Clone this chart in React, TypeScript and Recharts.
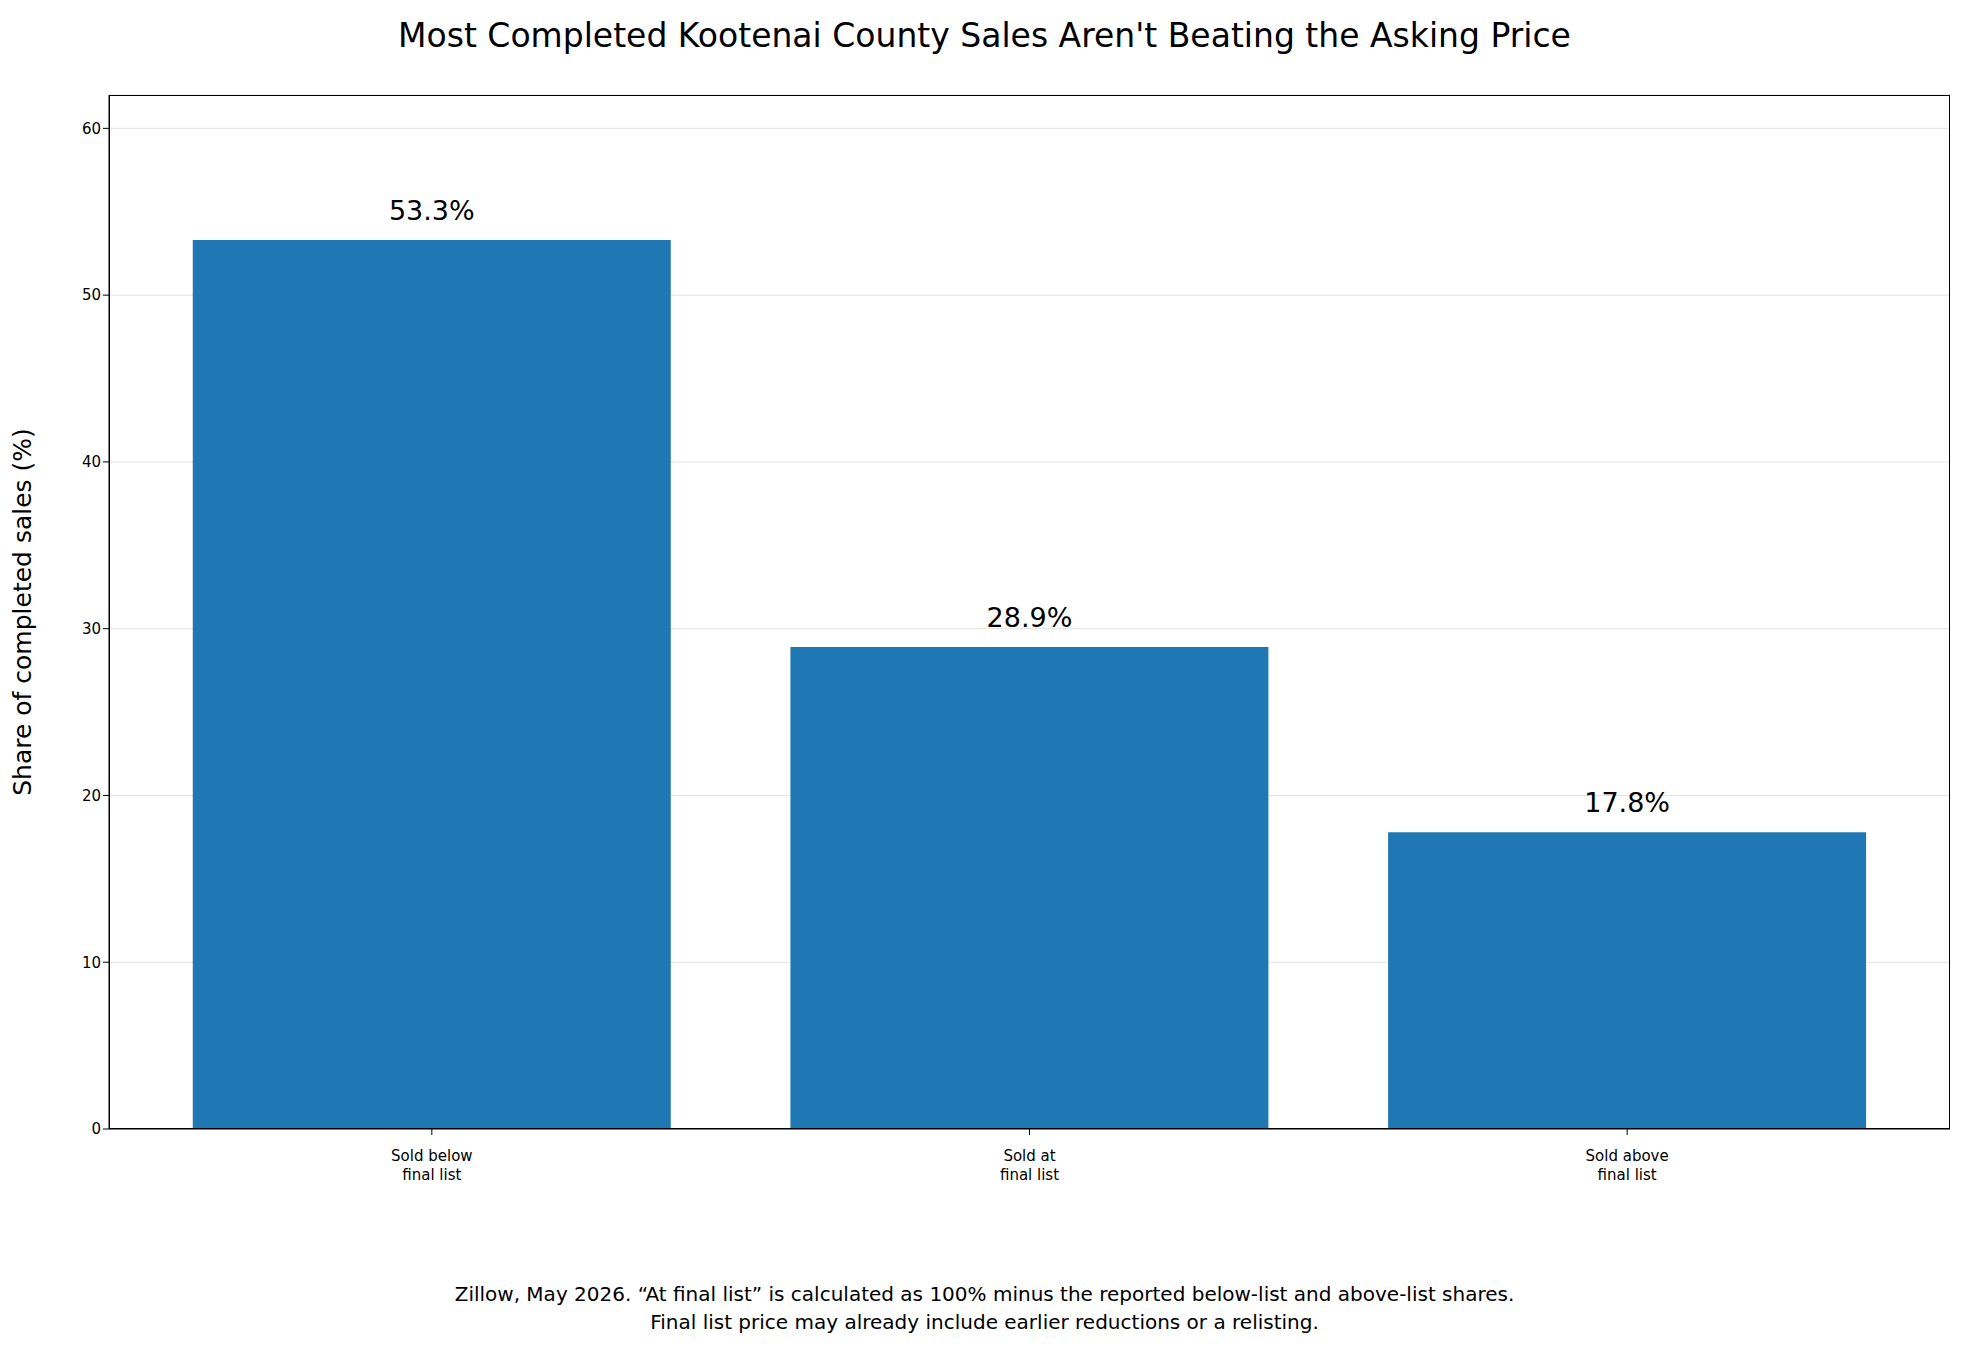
import { BarChart, Bar, XAxis, YAxis, CartesianGrid, LabelList } from 'recharts';

const categories = ['Sold below\nfinal list', 'Sold at\nfinal list', 'Sold above\nfinal list'];
const shares = [53.3, 28.9, 17.8];
const yTicks = [0, 10, 20, 30, 40, 50, 60];

const data = categories.map((c, i) => ({ name: c, value: shares[i] }));

const FONT = '"DejaVu Sans", sans-serif';

function CatTick({ x, y, payload }: any) {
  const lines = String(payload.value).split('\n');
  return (
    <text x={x} y={y + 14} textAnchor="middle" fontSize={15} fill="#000" fontFamily={FONT}>
      {lines.map((l, i) => (
        <tspan key={i} x={x} dy={i === 0 ? 10 : 19}>{l}</tspan>
      ))}
    </text>
  );
}

export default function App() {
  return (
    <div style={{ position: 'absolute', left: 0, top: 0, width: 1969, height: 1352, background: '#fff', fontFamily: FONT }}>
      <div style={{ position: 'absolute', top: 16, width: '100%', textAlign: 'center', fontSize: 33 }}>
        Most Completed Kootenai County Sales Aren't Beating the Asking Price
      </div>
      <BarChart width={1969} height={1352} data={data} barCategoryGap="10%"
        margin={{ top: 95, right: 19, left: 49, bottom: 163 }}>
        <CartesianGrid vertical={false} stroke="#e3e3e3" />
        <XAxis dataKey="name" tick={<CatTick />} tickLine={{ stroke: '#000' }} tickSize={6}
          axisLine={{ stroke: '#000' }} interval={0} height={60} padding={{ left: 24, right: 24 }} />
        <YAxis domain={[0, 62]} ticks={yTicks} width={60} tick={{ fill: '#000', fontSize: 15, fontFamily: FONT }}
          tickLine={{ stroke: '#000' }} tickSize={6} axisLine={{ stroke: '#000' }}
          label={{ value: 'Share of completed sales (%)', angle: -90, position: 'insideLeft', dx: -32, style: { textAnchor: 'middle', fontSize: 25, fill: '#000', fontFamily: FONT } }} />
        <Bar dataKey="value" fill="#1f77b4" isAnimationActive={false}>
          <LabelList dataKey="value" position="top" offset={20} formatter={(v: any) => `${Number(v).toFixed(1)}%`}
            style={{ fontSize: 27, fill: '#000', fontFamily: FONT }} />
        </Bar>
      </BarChart>
      <div style={{ position: 'absolute', left: 109, top: 95, width: 1841, height: 1034, border: '1px solid #000', boxSizing: 'border-box', pointerEvents: 'none' }} />
      <div style={{ position: 'absolute', top: 1280, width: '100%', textAlign: 'center', fontSize: 20, lineHeight: '28px' }}>
        Zillow, May 2026. “At final list” is calculated as 100% minus the reported below-list and above-list shares.<br />
        Final list price may already include earlier reductions or a relisting.
      </div>
    </div>
  );
}
